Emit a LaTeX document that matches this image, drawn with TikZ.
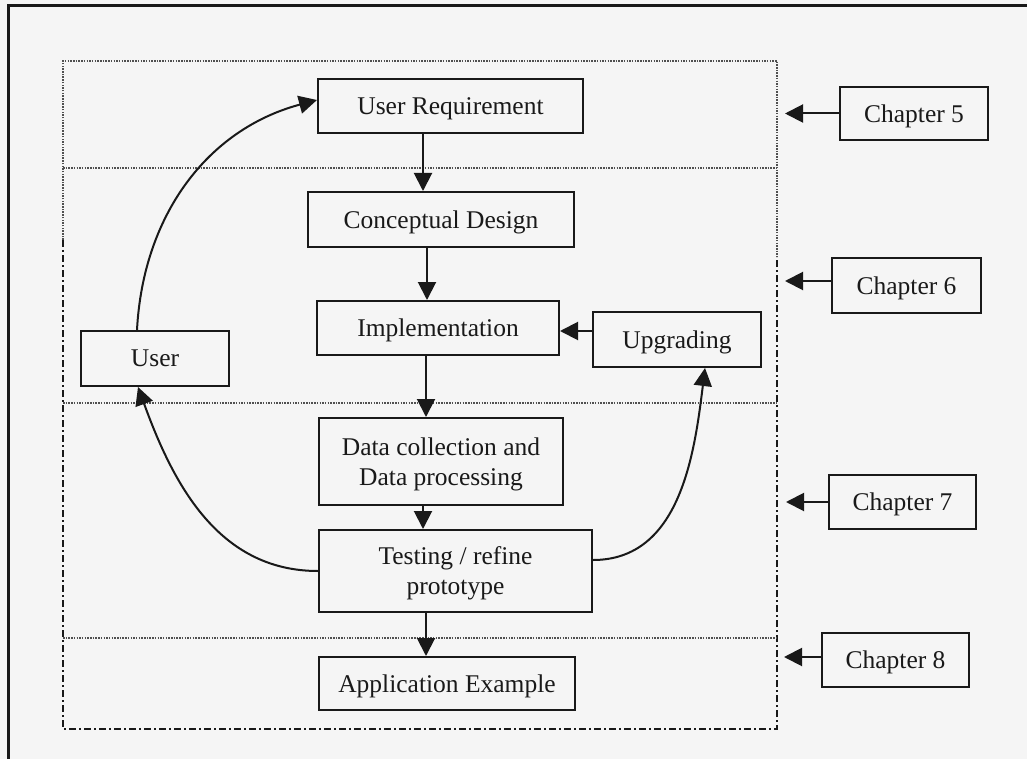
\documentclass[tikz,border=0pt]{standalone}
\usepackage{fontspec}
\setmainfont{Liberation Serif}
\usetikzlibrary{arrows.meta}
\definecolor{paper}{RGB}{245,245,245}
\definecolor{ink}{RGB}{25,25,25}
\definecolor{dotink}{RGB}{80,80,80}
\begin{document}
\begin{tikzpicture}[x=1pt,y=1pt,
  box/.style={draw=ink, line width=2pt, fill=paper, inner sep=0pt, text depth=0pt,
    align=center, font=\fontsize{25.5}{30}\selectfont, text=ink},
  arr/.style={draw=ink, line width=2pt, -{Triangle[length=18pt,width=18pt]}},
  dots/.style={draw=dotink, line width=1.5pt, dash pattern=on 1.5pt off 1.2pt},
  dashdot/.style={draw=ink, line width=2pt, dash pattern=on 7pt off 3pt on 2pt off 3pt},
  frameline/.style={draw=ink, line width=3pt}]

% page
\fill[paper] (0,0) rectangle (1027,-759);
\useasboundingbox (0,0) rectangle (1027,-759);

% outer frame (left and top edges)
\draw[frameline] (8,-759) -- (8,-6) -- (1027,-6);

% chapter frame
\draw[dots] (63,-240) -- (63,-61) -- (777,-61) -- (777,-257);
\draw[dashdot] (63,-240) -- (63,-729) -- (777,-729) -- (777,-257);
\draw[dots] (63,-168) -- (777,-168);
\draw[dots] (63,-403) -- (777,-403);
\draw[dots] (63,-638) -- (777,-638);

% process boxes
\node[box, minimum width=265pt, minimum height=54pt] (ureq)    at (450.5,-106)  {User Requirement};
\node[box, minimum width=266pt, minimum height=55pt] (concept) at (441,-219.5)  {Conceptual Design};
\node[box, minimum width=242pt, minimum height=54pt] (impl)    at (438,-328)    {Implementation};
\node[box, minimum width=168pt, minimum height=55pt] (upg)     at (677,-339.5)  {Upgrading};
\node[box, minimum width=148pt, minimum height=55pt] (user)    at (155,-358.5)  {User};
\node[box, minimum width=244pt, minimum height=87pt] (data)    at (441,-461.5)  {Data collection and\\Data processing};
\node[box, minimum width=273pt, minimum height=82pt] (test)    at (455.5,-571)  {Testing / refine\\prototype};
\node[box, minimum width=256pt, minimum height=53pt] (app)     at (447,-683.5)  {Application Example};

% chapter boxes
\node[box, minimum width=148pt, minimum height=53pt] (ch5) at (914,-113.5) {Chapter 5};
\node[box, minimum width=149pt, minimum height=55pt] (ch6) at (906.5,-285.5) {Chapter 6};
\node[box, minimum width=147pt, minimum height=54pt] (ch7) at (902.5,-502) {Chapter 7};
\node[box, minimum width=147pt, minimum height=54pt] (ch8) at (895.5,-660) {Chapter 8};

\coordinate (t5) at (785,-113.5);
\coordinate (t6) at (785,-281);
\coordinate (t7) at (786,-502);
\coordinate (t8) at (784,-657);

% main flow
\draw[arr] ([xshift=-27.5pt]ureq.south) -- ([xshift=-18pt]concept.north);
\draw[arr] ([xshift=-14pt]concept.south) -- ([xshift=-11pt]impl.north);
\draw[arr] ([xshift=-12pt]impl.south) -- ([xshift=-15pt]data.north);
\draw[arr] ([xshift=-18pt]data.south) -- ([xshift=-32.5pt]test.north);
\draw[arr] ([xshift=-29.5pt]test.south) -- ([xshift=-21pt]app.north);
\draw[arr] ([yshift=8.5pt]upg.west) -- ([yshift=-3pt]impl.east);

% feedback loops
\draw[arr] ([xshift=-18pt]user.north) to[out=87,in=195] ([yshift=6pt]ureq.west);
\draw[arr] (test.west) to[out=180,in=-70] ([xshift=-17pt]user.south);
\draw[arr] ([yshift=11pt]test.east) to[out=0,in=-97] ([xshift=28pt]upg.south);

% chapter pointers
\draw[arr] (ch5.west) -- (t5);
\draw[arr] ([yshift=4.5pt]ch6.west) -- (t6);
\draw[arr] (ch7.west) -- (t7);
\draw[arr] ([yshift=3pt]ch8.west) -- (t8);
\end{tikzpicture}
\end{document}
